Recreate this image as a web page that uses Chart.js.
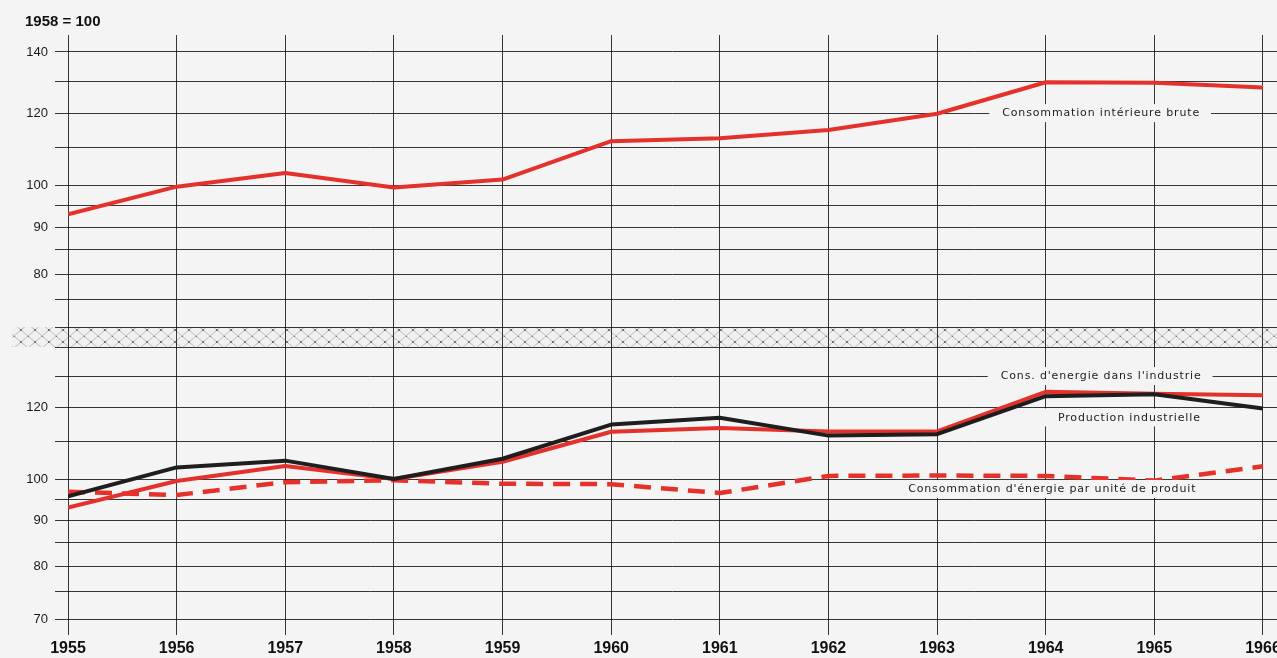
<!DOCTYPE html>
<html>
<head>
<meta charset="utf-8">
<script src="https://cdn.jsdelivr.net/npm/chart.js@4.4.0/dist/chart.umd.min.js"></script>
<style>
html,body{margin:0;padding:0;background:#f4f4f4;overflow:hidden}
#wrap{width:1277px;height:658px}
</style>
</head>
<body>
<div id="wrap"><canvas id="c" width="1277" height="658"></canvas></div>
<script>
// ---- data (index 1958 = 100, semi-log panels) ----
const years = [1955, 1956, 1957, 1958, 1959, 1960, 1961, 1962, 1963, 1964, 1965, 1966];
const consInterieureBrute = [93.0, 99.7, 103.2, 99.5, 101.5, 111.8, 112.6, 115.0, 119.8, 129.7, 129.5, 128.0];
const consEnergieIndustrie = [93.0, 99.5, 103.4, 100.0, 104.5, 112.8, 113.9, 112.9, 112.9, 124.9, 124.3, 123.8];
const productionIndustrielle = [95.7, 103.0, 104.8, 100.0, 105.3, 114.9, 116.9, 111.7, 112.1, 123.5, 124.1, 119.7];
const consParUnite = [96.8, 96.0, 99.2, 99.7, 98.8, 98.7, 96.5, 100.8, 100.9, 100.8, 99.6, 103.3];
const gridValues = [70, 75, 80, 85, 90, 95, 100, 110, 120, 130, 140];
const topTickLabels = [140, 120, 100, 90, 80];
const bottomTickLabels = [120, 100, 90, 80, 70];
const titleText = '1958 = 100';
const seriesLabels = [
  { text: 'Consommation intérieure brute', axis: 'yTop', x: 1964.51, y: 120 },
  { text: "Cons. d'energie dans l'industrie", axis: 'yBot', x: 1964.51, y: 130 },
  { text: 'Production industrielle', axis: 'yBot', x: 1964.77, y: 117 },
  { text: "Consommation d'énergie par unité de produit", axis: 'yBot', x: 1964.06, y: 97.5 }
];

// ---- styles ----
const BG = '#f4f4f4';
const RED = '#e5312b';
const BLACK = '#1e1e1e';
const GRID = 'rgba(20,20,20,0.85)';
const LABEL_FONT = '11px "DejaVu Sans", sans-serif';

const toXY = arr => arr.map((v, i) => ({ x: years[i], y: v }));

function makeHatch() {
  const p = document.createElement('canvas');
  p.width = 14; p.height = 12;
  const g = p.getContext('2d');
  g.fillStyle = '#f0f0f0';
  g.fillRect(0, 0, 14, 12);
  g.strokeStyle = 'rgba(0,0,0,0.22)';
  g.lineWidth = 1;
  g.beginPath();
  g.moveTo(0, 0); g.lineTo(14, 12);
  g.moveTo(14, 0); g.lineTo(0, 12);
  g.stroke();
  g.fillStyle = 'rgba(0,0,0,0.4)';
  g.fillRect(6, 5, 2, 2);
  g.fillRect(0, 0, 1, 1);
  return p;
}

const backdrop = {
  id: 'backdrop',
  beforeDraw(chart) {
    const { ctx, width, height, scales } = chart;
    ctx.save();
    ctx.fillStyle = BG;
    ctx.fillRect(0, 0, width, height);
    const top = Math.min(scales.yTop.bottom, scales.yBot.top);
    const bot = Math.max(scales.yTop.bottom, scales.yBot.top);
    ctx.fillStyle = ctx.createPattern(makeHatch(), 'repeat');
    ctx.fillRect(12, top, width - 12, bot - top);
    ctx.restore();
  },
  afterDraw(chart) {
    const { ctx } = chart;
    ctx.save();
    ctx.fillStyle = '#111';
    ctx.font = 'bold 15px "Liberation Sans", Arial, sans-serif';
    ctx.textBaseline = 'alphabetic';
    ctx.textAlign = 'left';
    ctx.fillText(titleText, 25, 26);
    ctx.restore();
  }
};

const seriesLabelPlugin = {
  id: 'seriesLabels',
  afterDatasetsDraw(chart) {
    const { ctx, scales } = chart;
    ctx.save();
    ctx.font = LABEL_FONT;
    ctx.letterSpacing = '0.85px';
    ctx.textAlign = 'center';
    ctx.textBaseline = 'middle';
    for (const l of seriesLabels) {
      const px = scales.x.getPixelForValue(l.x);
      const py = scales[l.axis].getPixelForValue(l.y);
      const w = ctx.measureText(l.text).width;
      ctx.fillStyle = BG;
      ctx.fillRect(px - w / 2 - 13, py - 9, w + 24, 18);
      ctx.fillStyle = '#222';
      ctx.fillText(l.text, px, py + 0.5);
    }
    ctx.restore();
  }
};

function yAxis(weight, stackWeight, max, labels) {
  return {
    type: 'logarithmic',
    position: 'left',
    stack: 'ys',
    weight: weight,
    stackWeight: stackWeight,
    min: 70,
    max: max,
    afterBuildTicks: s => { s.ticks = gridValues.map(v => ({ value: v })); },
    afterFit: s => { s.width = 68; },
    grid: { color: GRID, lineWidth: 1, tickLength: 13, drawTicks: true },
    border: { display: false },
    ticks: {
      autoSkip: false,
      padding: 7,
      color: '#1a1a1a',
      font: { family: '"Liberation Sans", Arial, sans-serif', size: 13 },
      callback: v => labels.includes(v) ? String(v) : ''
    }
  };
}

new Chart(document.getElementById('c').getContext('2d'), {
  type: 'line',
  data: {
    datasets: [
      { label: 'Consommation intérieure brute', data: toXY(consInterieureBrute), yAxisID: 'yTop', borderColor: RED, borderWidth: 4 },
      { label: 'Production industrielle', data: toXY(productionIndustrielle), yAxisID: 'yBot', borderColor: BLACK, borderWidth: 4 },
      { label: "Cons. d'energie dans l'industrie", data: toXY(consEnergieIndustrie), yAxisID: 'yBot', borderColor: RED, borderWidth: 4 },
      { label: "Consommation d'énergie par unité de produit", data: toXY(consParUnite), yAxisID: 'yBot', borderColor: RED, borderWidth: 4.5, borderDash: [17, 10] }
    ]
  },
  options: {
    responsive: false,
    animation: false,
    devicePixelRatio: 1,
    layout: { padding: { top: 35, left: 0, right: 0, bottom: 0 } },
    plugins: { legend: { display: false }, tooltip: { enabled: false }, title: { display: false } },
    elements: { point: { radius: 0 }, line: { tension: 0, borderJoinStyle: 'round', borderCapStyle: 'butt' } },
    scales: {
      x: {
        type: 'linear',
        min: 1955,
        max: 1966.129,
        afterBuildTicks: s => { s.ticks = years.map(v => ({ value: v })); },
        afterFit: s => { s.height = 39; s.paddingLeft = 0; s.paddingRight = 0; },
        grid: { color: GRID, lineWidth: 1, tickLength: 16 },
        border: { display: false },
        ticks: {
          autoSkip: false,
          maxRotation: 0,
          padding: 4,
          color: '#111',
          font: { family: '"Liberation Sans Narrow", "Liberation Sans", Arial, sans-serif', size: 16, weight: 'bold' },
          callback: v => String(v)
        }
      },
      yTop: yAxis(3, 292, 146.1, topTickLabels),
      yGap: {
        type: 'linear', position: 'left', stack: 'ys', weight: 2, stackWeight: 20,
        min: 0, max: 1,
        afterFit: s => { s.width = 68; },
        grid: { display: false }, border: { display: false }, ticks: { display: false }
      },
      yBot: yAxis(1, 272, 140, bottomTickLabels)
    }
  },
  plugins: [backdrop, seriesLabelPlugin]
});
</script>
</body>
</html>
